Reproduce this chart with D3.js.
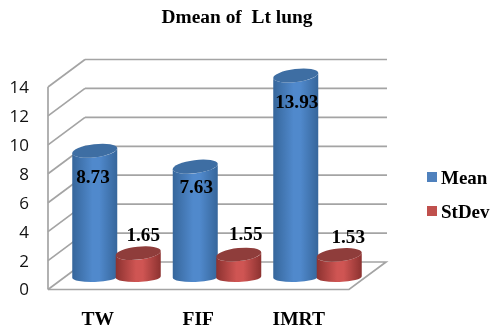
<!DOCTYPE html>
<html>
<head>
<meta charset="utf-8">
<script src="https://cdn.jsdelivr.net/npm/d3@7"></script>
<style>
html, body { margin: 0; padding: 0; background: #fff; }
svg { display: block; filter: blur(0.35px); }
text { font-family: "Liberation Serif", serif; font-weight: bold; fill: #000; white-space: pre; }
.tick text { font-family: "Open Sans", sans-serif; font-weight: normal; font-size: 17px; fill: #111; }
</style>
</head>
<body>
<svg></svg>
<script>
var categories = ["TW", "FIF", "IMRT"];
var seriesNames = ["Mean", "StDev"];
var meanValues = [8.73, 7.63, 13.93];
var stdevValues = [1.65, 1.55, 1.53];
var yTicks = [0, 2, 4, 6, 8, 10, 12, 14];
var chartTitle = "Dmean of  Lt lung";

drawChart = function(){
    var svgWidth = 493;
    var svgHeight = 328;

    var svg = d3.select("svg")
        .attr("width", svgWidth)
        .attr("height", svgHeight);

    // front edge of the box, the back wall sits up and to the right of it
    var frontLeft = 48;
    var frontRight = 349;
    var depthX = 37;
    var depthY = -27.5;
    var gridColour = "#a4a4a4";

    var y = d3.scaleLinear().domain([0, 14]).range([289.5, 87]);
    var x = d3.scaleBand().domain(categories)
        .range([frontLeft + 8, frontLeft + 8 + 301.5]).paddingInner(0).paddingOuter(0);
    var xSeries = d3.scaleBand().domain(seriesNames)
        .range([17, 17 + 87]);

    var colours = {
        Mean: { edge: "#36669b", mid: "#5089cc", top: "#3e6ea3" },
        StDev: { edge: "#8c3230", mid: "#cf5553", top: "#8f3d3b" }
    };

    var defs = svg.append("defs");
    seriesNames.forEach(function(name){
        var grad = defs.append("linearGradient")
            .attr("id", "grad" + name)
            .attr("x1", 0).attr("x2", 1).attr("y1", 0).attr("y2", 0);
        grad.append("stop").attr("offset", "0%").attr("stop-color", colours[name].edge);
        grad.append("stop").attr("offset", "45%").attr("stop-color", colours[name].mid);
        grad.append("stop").attr("offset", "60%").attr("stop-color", colours[name].mid);
        grad.append("stop").attr("offset", "100%").attr("stop-color", colours[name].edge);
    });

    // walls and floor
    var grid = svg.append("g")
        .attr("fill", "none")
        .attr("stroke", gridColour)
        .attr("stroke-width", 1.7);

    grid.selectAll(".back")
        .data(yTicks.filter(function(d){ return d > 0; }))
        .enter()
        .append("line")
        .attr("x1", frontLeft + depthX)
        .attr("x2", frontRight + depthX + 1)
        .attr("y1", function(d){ return y(d) + depthY; })
        .attr("y2", function(d){ return y(d) + depthY; });

    grid.selectAll(".side")
        .data(yTicks)
        .enter()
        .append("line")
        .attr("x1", frontLeft)
        .attr("x2", frontLeft + depthX)
        .attr("y1", function(d){ return y(d); })
        .attr("y2", function(d){ return y(d) + depthY; });

    grid.append("line")
        .attr("x1", frontLeft).attr("x2", frontLeft)
        .attr("y1", y(14)).attr("y2", y(0));

    grid.append("path")
        .attr("d", d3.line()([
            [frontLeft, y(0)],
            [frontRight, y(0)],
            [frontRight + depthX, y(0) + depthY],
            [frontLeft + depthX, y(0) + depthY]
        ]));

    // cylinders, mean first so the red ones overlap them
    var baseY = y(0) - 12.5;
    var rx = 22.5;
    var ryTop = 6.5;
    var ryBottom = 5;
    var topTilt = { Mean: 7, StDev: 6 };
    var bottomTilt = 2;

    function cylinderTop(v){
        return baseY - (y(0) - y(v));
    }

    function centreOf(name, i){
        return x(categories[i]) + xSeries(name) + xSeries.bandwidth() / 2;
    }

    function drawSeries(name, values){
        var rad = topTilt[name] * Math.PI / 180;
        var radB = bottomTilt * Math.PI / 180;
        var g = svg.append("g").selectAll(null)
            .data(values)
            .enter()
            .append("g")
            .attr("transform", function(d, i){
                return "translate(" + centreOf(name, i) + ",0)";
            });

        g.append("path")
            .attr("fill", "url(#grad" + name + ")")
            .attr("d", function(d){
                var t = cylinderTop(d);
                return "M" + (-rx) + "," + (t + rx * Math.sin(rad)) +
                    "L" + (-rx) + "," + (baseY + rx * Math.sin(radB)) +
                    "A" + rx + "," + ryBottom + " " + (-bottomTilt) + " 0 0 " + rx + "," + (baseY - rx * Math.sin(radB)) +
                    "L" + rx + "," + (t - rx * Math.sin(rad)) +
                    "A" + rx + "," + ryTop + " " + (-topTilt[name]) + " 0 1 " + (-rx) + "," + (t + rx * Math.sin(rad)) + "Z";
            });

        g.append("ellipse")
            .attr("rx", rx / Math.cos(rad))
            .attr("ry", ryTop)
            .attr("fill", colours[name].top)
            .attr("transform", function(d){
                return "translate(0," + cylinderTop(d) + ") rotate(" + (-topTilt[name]) + ")";
            });
    }

    drawSeries("Mean", meanValues);
    drawSeries("StDev", stdevValues);

    // value labels were dragged by hand in the original, so each has its own nudge
    var valueSize = 19.2;
    var meanNudge = [[-1.75, 32], [1, 26.5], [1, 32]];
    var stdevNudge = [[5, -12], [7, -14.5], [9, -12]];

    svg.append("g").selectAll(null)
        .data(meanValues)
        .enter()
        .append("text")
        .attr("text-anchor", "middle")
        .style("font-size", valueSize + "px")
        .attr("x", function(d, i){ return centreOf("Mean", i) + meanNudge[i][0]; })
        .attr("y", function(d, i){ return cylinderTop(d) + meanNudge[i][1]; })
        .text(function(d){ return d.toFixed(2); });

    svg.append("g").selectAll(null)
        .data(stdevValues)
        .enter()
        .append("text")
        .attr("text-anchor", "middle")
        .style("font-size", valueSize + "px")
        .attr("x", function(d, i){ return centreOf("StDev", i) + stdevNudge[i][0]; })
        .attr("y", function(d, i){ return cylinderTop(d) + stdevNudge[i][1]; })
        .text(function(d){ return d.toFixed(2); });

    // y axis, only the numbers, the lines are the box above
    var yAxis = d3.axisLeft(y).tickValues(yTicks).tickSize(0).tickPadding(0);
    var axisGroup = svg.append("g")
        .attr("transform", "translate(29,0)")
        .call(yAxis);
    axisGroup.select(".domain").remove();

    // category labels
    svg.append("g").selectAll(null)
        .data(categories)
        .enter()
        .append("text")
        .attr("text-anchor", "middle")
        .style("font-size", "19.5px")
        .attr("x", function(d, i){ return centreOf("Mean", i) + 3; })
        .attr("y", 325)
        .text(function(d){ return d; });

    svg.append("text")
        .attr("text-anchor", "middle")
        .style("font-size", "19.4px")
        .attr("x", 237)
        .attr("y", 23)
        .text(chartTitle);

    // legend
    var legend = svg.append("g").selectAll(null)
        .data(seriesNames)
        .enter()
        .append("g")
        .attr("transform", function(d, i){ return "translate(427," + (172 + i * 34) + ")"; });
    legend.append("rect")
        .attr("width", 10)
        .attr("height", 10)
        .attr("fill", function(d){ return d == "Mean" ? "#4f81bd" : "#c0504d"; });
    legend.append("text")
        .attr("x", 14)
        .attr("y", 12)
        .style("font-size", "19px")
        .text(function(d){ return d; });
}

drawChart()
</script>
</body>
</html>
